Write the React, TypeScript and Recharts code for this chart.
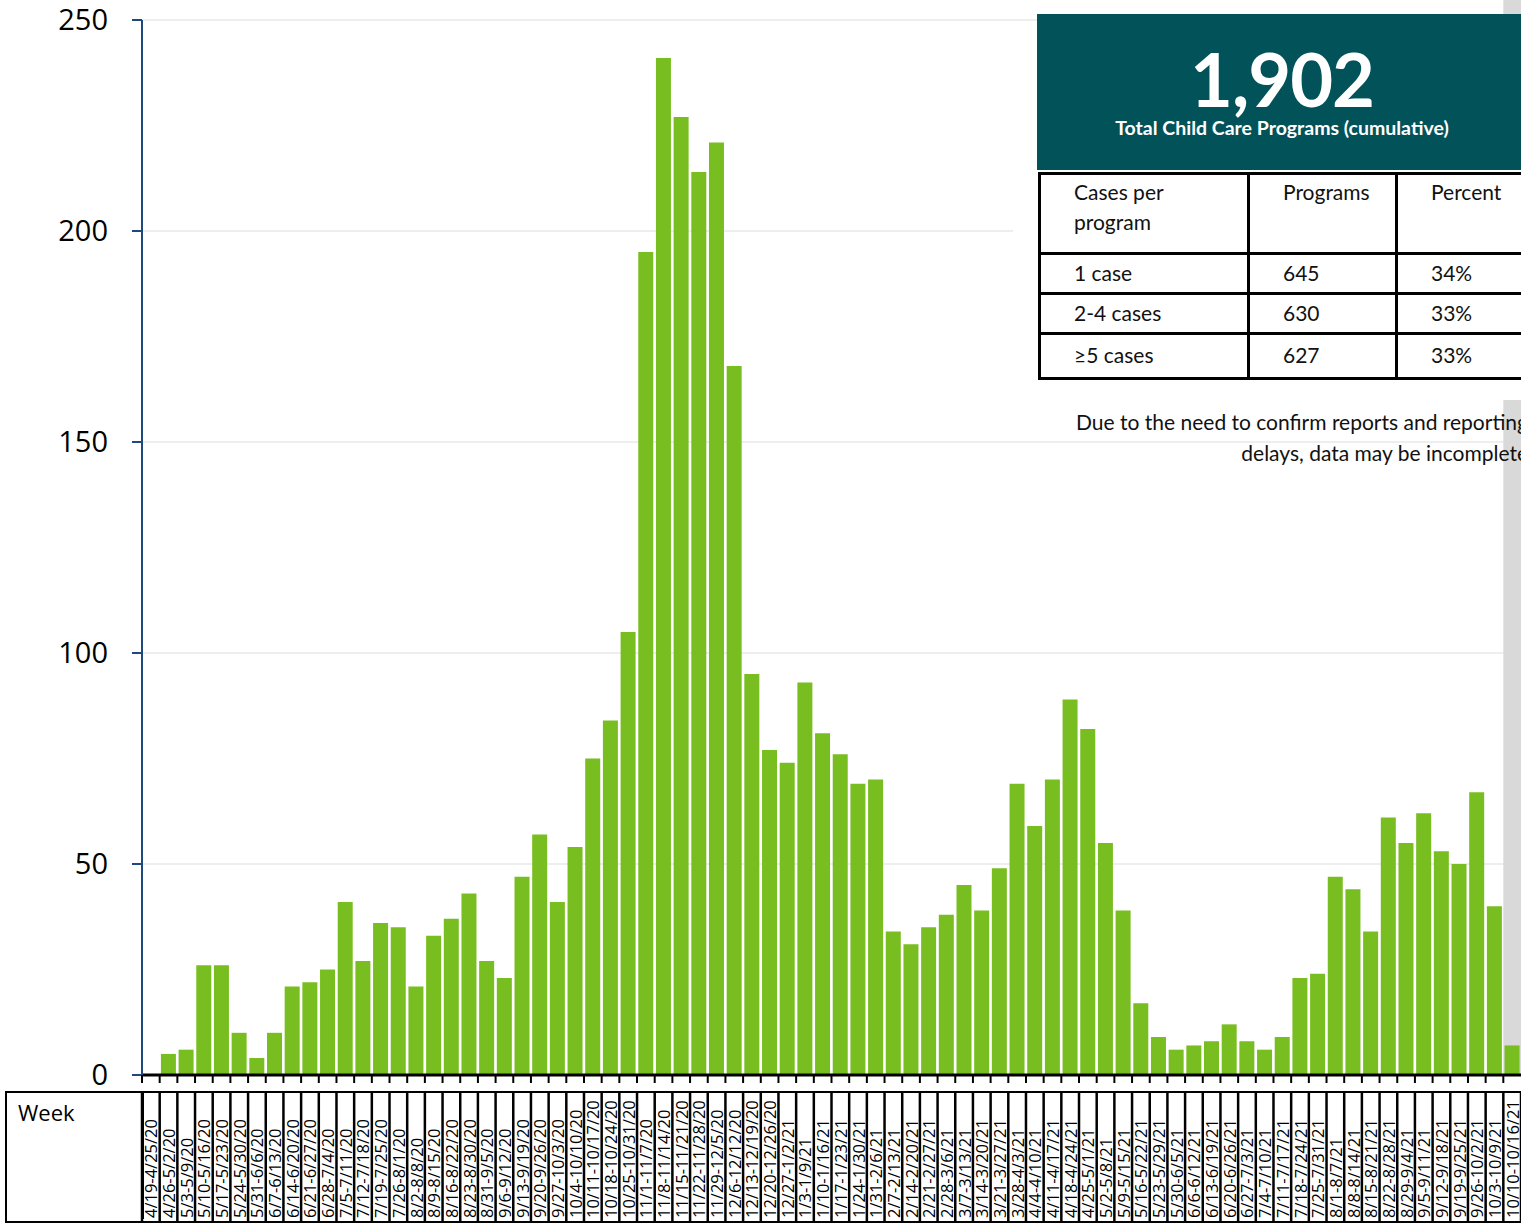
import { BarChart, Bar, XAxis, YAxis, CartesianGrid, ReferenceArea } from 'recharts'

const weeks = [
  '4/19-4/25/20', '4/26-5/2/20', '5/3-5/9/20', '5/10-5/16/20', '5/17-5/23/20', '5/24-5/30/20',
  '5/31-6/6/20', '6/7-6/13/20', '6/14-6/20/20', '6/21-6/27/20', '6/28-7/4/20', '7/5-7/11/20',
  '7/12-7/18/20', '7/19-7/25/20', '7/26-8/1/20', '8/2-8/8/20', '8/9-8/15/20', '8/16-8/22/20',
  '8/23-8/30/20', '8/31-9/5/20', '9/6-9/12/20', '9/13-9/19/20', '9/20-9/26/20', '9/27-10/3/20',
  '10/4-10/10/20', '10/11-10/17/20', '10/18-10/24/20', '10/25-10/31/20', '11/1-11/7/20',
  '11/8-11/14/20', '11/15-11/21/20', '11/22-11/28/20', '11/29-12/5/20', '12/6-12/12/20',
  '12/13-12/19/20', '12/20-12/26/20', '12/27-1/2/21', '1/3-1/9/21', '1/10-1/16/21',
  '1/17-1/23/21', '1/24-1/30/21', '1/31-2/6/21', '2/7-2/13/21', '2/14-2/20/21', '2/21-2/27/21',
  '2/28-3/6/21', '3/7-3/13/21', '3/14-3/20/21', '3/21-3/27/21', '3/28-4/3/21', '4/4-4/10/21',
  '4/11-4/17/21', '4/18-4/24/21', '4/25-5/1/21', '5/2-5/8/21', '5/9-5/15/21', '5/16-5/22/21',
  '5/23-5/29/21', '5/30-6/5/21', '6/6-6/12/21', '6/13-6/19/21', '6/20-6/26/21', '6/27-7/3/21',
  '7/4-7/10/21', '7/11-7/17/21', '7/18-7/24/21', '7/25-7/31/21', '8/1-8/7/21', '8/8-8/14/21',
  '8/15-8/21/21', '8/22-8/28/21', '8/29-9/4/21', '9/5-9/11/21', '9/12-9/18/21', '9/19-9/25/21',
  '9/26-10/2/21', '10/3-10/9/21', '10/10-10/16/21',
]

const programs = [
  0, 5, 6, 26, 26, 10, 4, 10, 21, 22, 25, 41,
  27, 36, 35, 21, 33, 37, 43, 27, 23, 47, 57, 41,
  54, 75, 84, 105, 195, 241, 227, 214, 221, 168,
  95, 77, 74, 93, 81, 76, 69, 70, 34, 31, 35,
  38, 45, 39, 49, 69, 59, 70, 89, 82, 55, 39, 17,
  9, 6, 7, 8, 12, 8, 6, 9, 23, 24, 47, 44,
  34, 61, 55, 62, 53, 50, 67, 40, 7,
]

const yTicks = [0, 50, 100, 150, 200, 250]

const totalPrograms = '1,902'
const caseGroups = ['1 case', '2-4 cases', '\u22655 cases']
const groupPrograms = ['645', '630', '627']
const groupPercents = ['34%', '33%', '33%']

const data = weeks.map((week, i) => ({ week, programs: programs[i] }))

const W = 1521
const H = 1225
const PLOT_LEFT = 142
const PLOT_BOTTOM = 1075
const BAND = (W - PLOT_LEFT) / weeks.length
const TEAL = '#02525A'
const GREEN = '#79BE21'
const font = 'Lato, "Open Sans", sans-serif'

function WeekTick({ x, index, payload }: any) {
  const half = BAND / 2
  const last = index === weeks.length - 1
  return (
    <g>
      <line x1={x - half} x2={x - half} y1={PLOT_BOTTOM} y2={PLOT_BOTTOM + 8} stroke="#000" strokeWidth={2} />
      <line x1={x - half} x2={x - half} y1={1092} y2={1222} stroke="#000" strokeWidth={2.5} />
      {last && <line x1={x + half} x2={x + half} y1={1092} y2={1222} stroke="#000" strokeWidth={2.5} />}
      <text
        transform={`translate(${x},1218) rotate(-90)`}
        dominantBaseline="central"
        textAnchor="start"
        fontSize={16.5}
        fontFamily='"Open Sans", sans-serif'
        fill="#000"
      >
        {payload.value}
      </text>
    </g>
  )
}

const cell: React.CSSProperties = {
  border: '3px solid #000',
  padding: '0 0 0 33px',
  verticalAlign: 'middle',
  whiteSpace: 'nowrap',
}

export default function App() {
  return (
    <div style={{ position: 'absolute', left: 0, top: 0, width: W, height: H, overflow: 'hidden', background: '#fff' }}>
      <BarChart width={W} height={H} data={data} margin={{ top: 20, right: 0, left: 0, bottom: 0 }} barCategoryGap="7%">
        <CartesianGrid vertical={false} stroke="#eeeeee" strokeWidth={2} />
        <ReferenceArea
          x1={weeks[weeks.length - 1]}
          x2={weeks[weeks.length - 1]}
          y1={0}
          y2={255}
          ifOverflow="visible"
          fill="#d9d9d9"
          fillOpacity={1}
          stroke="none"
        />
        <XAxis
          dataKey="week"
          interval={0}
          height={150}
          tickLine={false}
          axisLine={{ stroke: '#000', strokeWidth: 3 }}
          tick={<WeekTick />}
        />
        <YAxis
          width={PLOT_LEFT}
          domain={[0, 250]}
          ticks={yTicks}
          tickSize={10}
          tickMargin={24}
          axisLine={{ stroke: '#1F497D', strokeWidth: 2 }}
          tickLine={{ stroke: '#1F497D', strokeWidth: 2 }}
          tick={{ fill: '#000', fontSize: 29, fontFamily: '"Open Sans", sans-serif' }}
        />
        <Bar dataKey="programs" fill={GREEN} isAnimationActive={false} />
      </BarChart>

      {/* week label frame */}
      <div style={{ position: 'absolute', left: 5, top: 1091, width: 1540, height: 128, border: '2.5px solid #000', pointerEvents: 'none' }} />
      <div style={{ position: 'absolute', left: 5, top: 1091, width: 137, height: 128, borderRight: '2.5px solid #000' }}>
        <div style={{ position: 'absolute', left: 13, top: 6, fontFamily: '"Open Sans", sans-serif', fontSize: 22, color: '#000' }}>Week</div>
      </div>

      {/* summary panel */}
      <div style={{ position: 'absolute', left: 1013, top: 170, width: 520, height: 230, background: '#fff' }} />
      <div style={{ position: 'absolute', left: 1037, top: 14, width: 490, height: 156, background: TEAL, color: '#fff', fontFamily: font, textAlign: 'center' }}>
        <div style={{ position: 'absolute', left: 0, right: 0, top: 28, fontSize: 74, fontWeight: 700, lineHeight: 1, letterSpacing: -1 }}>{totalPrograms}</div>
        <div style={{ position: 'absolute', left: 0, right: 0, top: 104, fontSize: 19.5, fontWeight: 700, lineHeight: 1 }}>Total Child Care Programs (cumulative)</div>
      </div>
      <table style={{ position: 'absolute', left: 1038, top: 172, borderCollapse: 'collapse', tableLayout: 'fixed', width: 520, fontFamily: font, fontSize: 21, color: '#111' }}>
        <colgroup>
          <col style={{ width: 209 }} />
          <col style={{ width: 148 }} />
          <col style={{ width: 163 }} />
        </colgroup>
        <tbody>
          <tr style={{ height: 80 }}>
            <td style={{ ...cell, verticalAlign: 'top', paddingTop: 2, lineHeight: '30px' }}>Cases per<br />program</td>
            <td style={{ ...cell, verticalAlign: 'top', paddingTop: 2, lineHeight: '30px' }}>Programs</td>
            <td style={{ ...cell, verticalAlign: 'top', paddingTop: 2, lineHeight: '30px' }}>Percent</td>
          </tr>
          {caseGroups.map((g, i) => (
            <tr key={g} style={{ height: i === 2 ? 45 : 40 }}>
              <td style={{ ...cell, paddingBottom: i === 2 ? 4 : 2 }}>{g}</td>
              <td style={{ ...cell, paddingBottom: i === 2 ? 4 : 2 }}>{groupPrograms[i]}</td>
              <td style={{ ...cell, paddingBottom: i === 2 ? 4 : 2 }}>{groupPercents[i]}</td>
            </tr>
          ))}
        </tbody>
      </table>
      <div style={{ position: 'absolute', left: 1000, top: 406, width: 528, textAlign: 'right', fontFamily: font, fontSize: 21, lineHeight: '31px', color: '#111', whiteSpace: 'nowrap' }}>
        Due to the need to confirm reports and reporting<br />delays, data may be incomplete
      </div>
    </div>
  )
}
